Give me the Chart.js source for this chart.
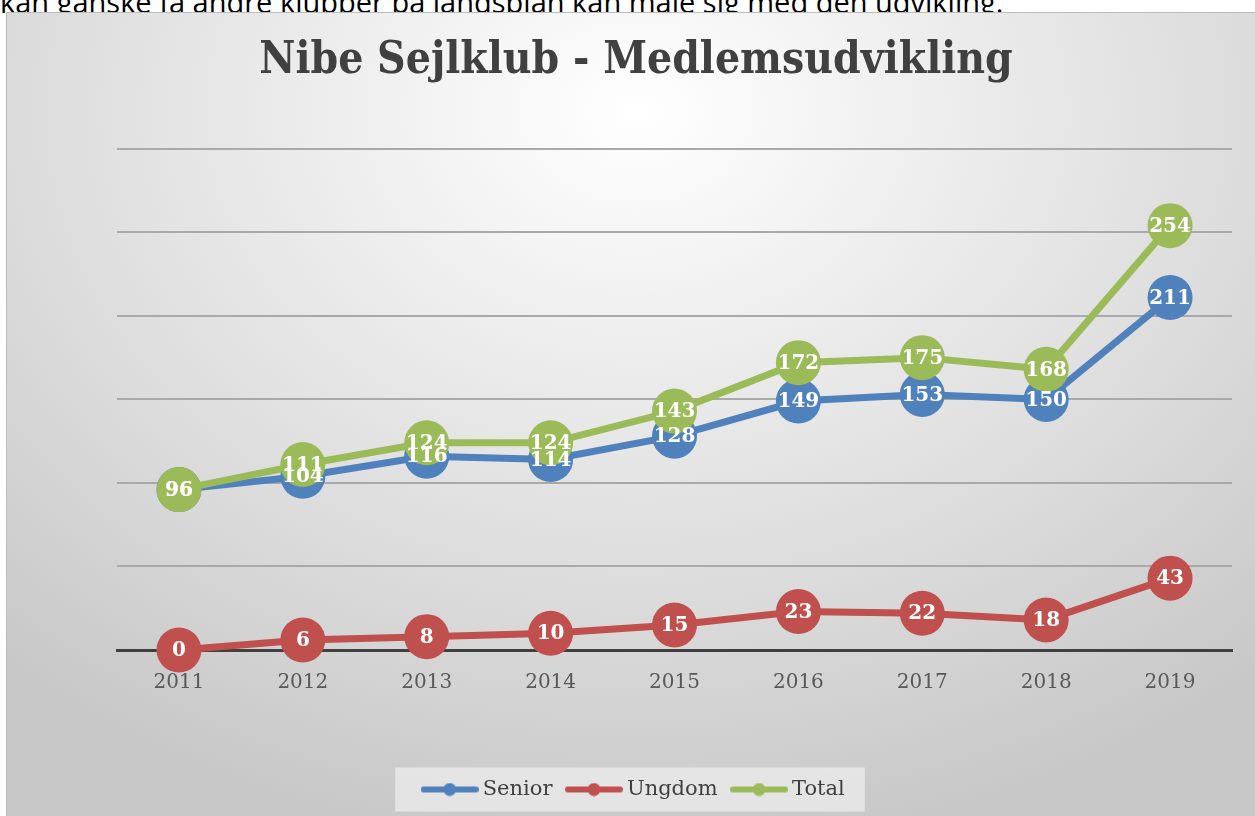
<!DOCTYPE html>
<html>
<head>
<meta charset="utf-8">
<script src="https://cdn.jsdelivr.net/npm/chart.js@4/dist/chart.umd.min.js"></script>
<style>
  html, body { margin: 0; padding: 0; width: 1255px; height: 816px; overflow: hidden; background: #fff; }
  #intro { position: absolute; left: 0; top: -16px; font: 29px "Open Sans", sans-serif; line-height: 36px; white-space: nowrap; color: #000; }
  #box {
    position: absolute; left: 6px; top: 12px; width: 1260px; height: 820px;
    border: 1px solid #bcbcbc;
    background: radial-gradient(ellipse 75% 90% at 50% 12%, #ffffff 0%, #ececec 35%, #dcdcdc 65%, #c8c8c8 100%);
  }
  #wrap { position: absolute; left: 0; top: 0; width: 1255px; height: 816px; }
</style>
</head>
<body>
<div id="intro">kan ganske få andre klubber på landsplan kan måle sig med den udvikling.</div>
<div id="box"></div>
<div id="wrap"><canvas id="myChart" width="1255" height="816"></canvas></div>
<script>
"use strict";

// Data
const years = ["2011", "2012", "2013", "2014", "2015", "2016", "2017", "2018", "2019"];
const senior = [96, 104, 116, 114, 128, 149, 153, 150, 211];
const ungdom = [0, 6, 8, 10, 15, 23, 22, 18, 43];
const total = [96, 111, 124, 124, 143, 172, 175, 168, 254];

const BLUE = "#4f81bd";
const RED = "#c0504d";
const GREEN = "#9bbb59";

// Legend marker: a short line with a dot on it
const legendMarker = (color) => {
  const c = document.createElement("canvas");
  c.width = 58;
  c.height = 14;
  const g = c.getContext("2d");
  g.strokeStyle = color;
  g.lineWidth = 6;
  g.lineCap = "round";
  g.beginPath();
  g.moveTo(3, 7);
  g.lineTo(55, 7);
  g.stroke();
  g.fillStyle = color;
  g.beginPath();
  g.arc(29, 7, 6.5, 0, Math.PI * 2);
  g.fill();
  return c;
};

// White values inside the markers
const valueLabels = {
  id: "valueLabels",
  afterDatasetsDraw(chart) {
    const ctx = chart.ctx;
    ctx.save();
    ctx.font = "bold 20px 'DejaVu Serif'";
    ctx.fillStyle = "#ffffff";
    ctx.textAlign = "center";
    ctx.textBaseline = "middle";
    chart.data.datasets.forEach((ds, i) => {
      chart.getDatasetMeta(i).data.forEach((pt, j) => {
        ctx.fillText(ds.data[j], pt.x, pt.y + 1);
      });
    });
    ctx.restore();
  },
};

// Light panel behind the legend
const legendPanel = {
  id: "legendPanel",
  beforeDraw(chart) {
    const boxes = chart.legend && chart.legend.legendHitBoxes;
    if (!boxes || !boxes.length) return;
    const left = Math.min(...boxes.map((b) => b.left)) - 32;
    const right = Math.max(...boxes.map((b) => b.left + b.width)) + 20;
    const mid = boxes[0].top + boxes[0].height / 2;
    const ctx = chart.ctx;
    ctx.save();
    ctx.fillStyle = "rgba(236,236,236,0.75)";
    ctx.fillRect(left, mid - 22, right - left, 44);
    ctx.restore();
  },
};

const ctx = document.getElementById("myChart").getContext("2d");
const myChart = new Chart(ctx, {
  type: "line",
  data: {
    labels: years,
    datasets: [
      { label: "Senior", data: senior, borderColor: BLUE, backgroundColor: BLUE, order: 3, clip: false, marker: legendMarker(BLUE) },
      { label: "Ungdom", data: ungdom, borderColor: RED, backgroundColor: RED, order: 2, clip: false, marker: legendMarker(RED) },
      { label: "Total", data: total, borderColor: GREEN, backgroundColor: GREEN, order: 1, clip: false, marker: legendMarker(GREEN) },
    ],
  },
  options: {
    responsive: false,
    animation: false,
    layout: { padding: { left: 40, right: 23, top: 0, bottom: 6 } },
    elements: {
      line: { borderWidth: 7, tension: 0 },
      point: { radius: 22.5, borderWidth: 0, hoverRadius: 22.5 },
    },
    plugins: {
      title: {
        display: true,
        text: "Nibe Sejlklub - Medlemsudvikling",
        color: "#404040",
        font: { family: "'DejaVu Serif Condensed', 'DejaVu Serif'", size: 44, weight: "bold", lineHeight: 1.2 },
        padding: { top: 35, bottom: 61 },
      },
      legend: {
        position: "bottom",
        labels: {
          usePointStyle: true,
          pointStyleWidth: 45,
          padding: 19,
          color: "#404040",
          font: { family: "'DejaVu Serif'", size: 21 },
          generateLabels: (chart) =>
            chart.data.datasets.map((ds, i) => ({
              text: ds.label,
              pointStyle: ds.marker,
              fontColor: "#404040",
              datasetIndex: i,
              hidden: false,
              lineWidth: 0,
            })),
        },
      },
      tooltip: { enabled: false },
    },
    scales: {
      x: {
        offset: true,
        grid: { display: false, drawTicks: false, tickLength: 0, offset: true },
        border: { display: true, color: "#404040", width: 3 },
        ticks: { color: "#595959", padding: 21, font: { family: "'DejaVu Serif'", size: 20 } },
        afterFit: (scale) => { scale.height = 110; },
      },
      y: {
        min: 0,
        max: 300,
        ticks: { display: false, stepSize: 50 },
        border: { display: false },
        grid: {
          drawTicks: false,
          color: (c) => (c.tick && c.tick.value === 0 ? "#404040" : "#a9a9a9"),
          lineWidth: (c) => (c.tick && c.tick.value === 0 ? 3 : 2),
        },
        afterFit: (scale) => { scale.width = 77; },
      },
    },
  },
  plugins: [legendPanel, valueLabels],
});
</script>
</body>
</html>
